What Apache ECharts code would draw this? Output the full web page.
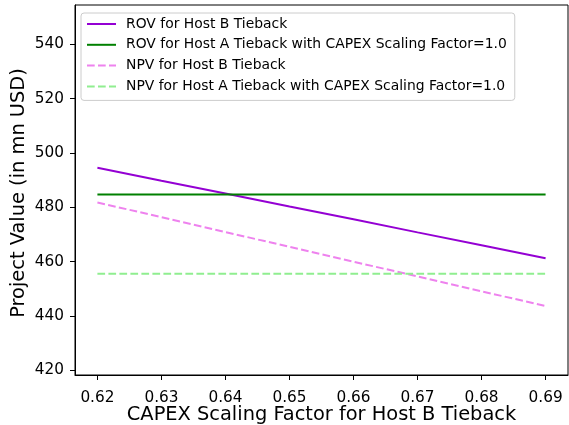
<!DOCTYPE html>
<html>
<head>
<meta charset="utf-8">
<script src="https://cdn.jsdelivr.net/npm/echarts@6/dist/echarts.min.js"></script>
<style>
  html, body { margin: 0; padding: 0; background: #fff; }
  #chart { width: 569px; height: 425px; }
</style>
</head>
<body>
<div id="chart"></div>
<script>
// CAPEX scaling factors for the Host B tieback
const scalingFactors = [0.62, 0.63, 0.64, 0.65, 0.66, 0.67, 0.68, 0.69];

// Project values in mn USD
const rovHostB = [494.6, 489.8, 485.1, 480.3, 475.6, 470.8, 466.1, 461.3];
const rovHostA = [484.7, 484.7, 484.7, 484.7, 484.7, 484.7, 484.7, 484.7];
const npvHostB = [481.8, 476.4, 470.9, 465.5, 460.0, 454.6, 449.1, 443.7];
const npvHostA = [455.6, 455.6, 455.6, 455.6, 455.6, 455.6, 455.6, 455.6];

const seriesNames = [
  'ROV for Host B Tieback',
  'ROV for Host A Tieback with CAPEX Scaling Factor=1.0',
  'NPV for Host B Tieback',
  'NPV for Host A Tieback with CAPEX Scaling Factor=1.0'
];

const xTicks = [0.62, 0.63, 0.64, 0.65, 0.66, 0.67, 0.68, 0.69];
const yTicks = [420, 440, 460, 480, 500, 520, 540];

const FONT = 'DejaVu Sans';

function pairs(values) {
  return scalingFactors.map((x, i) => [x, values[i]]);
}

function lineSeries(name, values, color, dashed) {
  return {
    name: name,
    type: 'line',
    data: pairs(values),
    symbol: 'none',
    animation: false,
    lineStyle: { color: color, width: 2, type: dashed ? [7.7, 3.3] : 'solid' },
    itemStyle: { color: color }
  };
}

const chart = echarts.init(document.getElementById('chart'));
chart.setOption({
  backgroundColor: '#fff',
  animation: false,
  grid: {
    left: 75, right: 1, top: 5, bottom: 50,
    outerBoundsMode: 'none',
    containLabel: false,
    show: true, borderColor: '#000', borderWidth: 1, backgroundColor: '#fff'
  },
  legend: {
    orient: 'vertical',
    left: 81, top: 13,
    padding: [4, 8, 7, 5],
    itemGap: 6.8,
    itemWidth: 29, itemHeight: 14,
    itemStyle: { opacity: 0 },
    backgroundColor: 'rgba(255,255,255,0.8)',
    borderColor: '#cccccc', borderWidth: 1, borderRadius: 3,
    textStyle: { fontFamily: FONT, fontSize: 13.9, lineHeight: 14, color: '#000', padding: [0, 0, 0, 5] },
    data: seriesNames
  },
  xAxis: {
    type: 'value',
    min: 0.6165, max: 0.6935,
    name: 'CAPEX Scaling Factor for Host B Tieback',
    nameLocation: 'middle', nameGap: 30,
    nameMoveOverlap: false,
    nameTextStyle: { fontFamily: FONT, fontSize: 19.4, color: '#000' },
    axisLine: { show: true, lineStyle: { color: '#000', width: 1 } },
    axisTick: { show: true, inside: false, length: 5, customValues: xTicks, lineStyle: { color: '#000' } },
    axisLabel: {
      customValues: xTicks, margin: 16,
      fontFamily: FONT, fontSize: 15.3, color: '#000',
      formatter: v => v.toFixed(2)
    },
    splitLine: { show: false }
  },
  yAxis: {
    type: 'value',
    min: 418.3, max: 554.5,
    name: 'Project Value (in mn USD)',
    nameLocation: 'middle', nameGap: 47,
    nameMoveOverlap: false,
    nameTextStyle: { fontFamily: FONT, fontSize: 19.4, color: '#000', padding: [0, 6, 0, 0] },
    axisLine: { show: true, lineStyle: { color: '#000', width: 1 } },
    axisTick: { show: true, inside: false, length: 5, customValues: yTicks, lineStyle: { color: '#000' } },
    axisLabel: {
      customValues: yTicks, margin: 11,
      fontFamily: FONT, fontSize: 15.3, color: '#000'
    },
    splitLine: { show: false }
  },
  series: [
    lineSeries(seriesNames[0], rovHostB, '#9400D3', false),
    lineSeries(seriesNames[1], rovHostA, '#008000', false),
    lineSeries(seriesNames[2], npvHostB, '#EE82EE', true),
    lineSeries(seriesNames[3], npvHostA, '#90EE90', true)
  ]
});
</script>
</body>
</html>
